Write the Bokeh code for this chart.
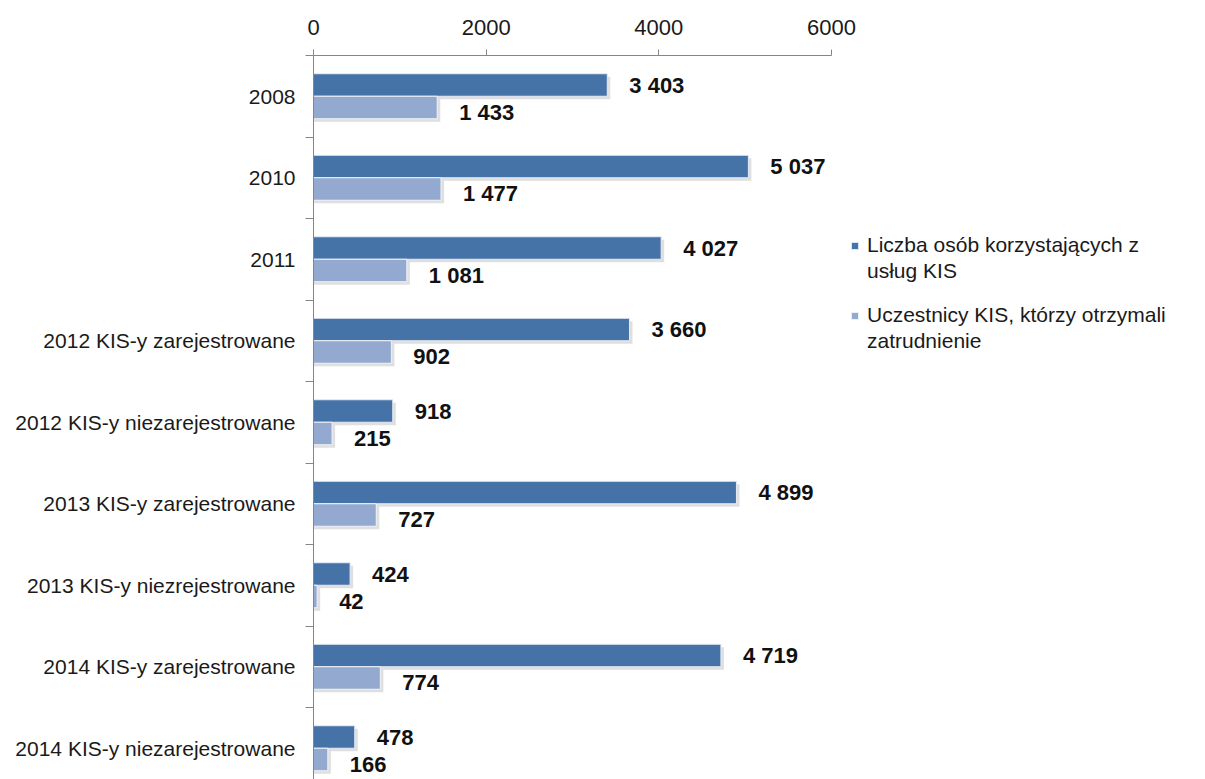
from bokeh.plotting import figure
from bokeh.models import Range1d, FixedTicker, Legend, LegendItem
from bokeh.embed import file_html
from bokeh.resources import INLINE
from bokeh.core.properties import value

# ---- data ----
categories = [
    "2008",
    "2010",
    "2011",
    "2012 KIS-y zarejestrowane",
    "2012 KIS-y niezarejestrowane",
    "2013 KIS-y zarejestrowane",
    "2013 KIS-y niezrejestrowane",
    "2014 KIS-y zarejestrowane",
    "2014 KIS-y niezarejestrowane",
]
users = [3403, 5037, 4027, 3660, 918, 4899, 424, 4719, 478]
employed = [1433, 1477, 1081, 902, 215, 727, 42, 774, 166]
series_names = [
    ["Liczba osób korzystających z", "usług KIS"],
    ["Uczestnicy KIS, którzy otrzymali", "zatrudnienie"],
]
x_ticks = [0, 2000, 4000, 6000]

# ---- styling ----
DARK = "#4572A7"
LIGHT = "#93A9CF"
FONT = "Liberation Sans"
TXT = "#1a1a1a"
AX = "#868686"

n = len(categories)
centers = [n - i - 0.5 for i in range(n)]
bar_h = 0.276
dark_y = [c + bar_h / 2 for c in centers]
light_y = [c - bar_h / 2 for c in centers]

def fmt(v):
    return f"{v:,}".replace(",", " ")

W, H = 1189, 779
LEFT, TOP = 313, 55
AXIS_PX = 518          # pixel length of 0..6000
x_end = 6000 * (W - LEFT) / AXIS_PX
y_start = n - (H - TOP) / 81.5

p = figure(
    width=W, height=H,
    x_range=Range1d(0, x_end), y_range=Range1d(y_start, n),
    x_axis_location="above",
    toolbar_location=None, output_backend="svg",
    min_border_left=LEFT, min_border_top=TOP, min_border_right=0, min_border_bottom=0,
)
p.grid.visible = False
p.outline_line_color = None

# shadows
sx = 35
sy = 0.037
p.hbar(y=[y - sy for y in dark_y], left=0, right=[u + sx for u in users], height=bar_h,
       fill_color="#9a9a9a", fill_alpha=0.32, line_color=None)
p.hbar(y=[y - sy for y in light_y], left=0, right=[u + sx for u in employed], height=bar_h,
       fill_color="#9a9a9a", fill_alpha=0.32, line_color=None)

r_dark = p.hbar(y=dark_y, left=0, right=users, height=bar_h,
                fill_color=DARK, line_color="#e6ecf5", line_width=1)
r_light = p.hbar(y=light_y, left=0, right=employed, height=bar_h,
                 fill_color=LIGHT, line_color="#f0f3f8", line_width=1)
r_blank = p.scatter(x=[], y=[], size=1, alpha=0)

p.text(x=users, y=dark_y, text=[fmt(v) for v in users], x_offset=22,
       text_baseline="middle", text_align="left", text_font=value(FONT),
       text_font_style="bold", text_font_size="22px", text_color="#111111")
p.text(x=employed, y=light_y, text=[fmt(v) for v in employed], x_offset=22, y_offset=5,
       text_baseline="middle", text_align="left", text_font=value(FONT),
       text_font_style="bold", text_font_size="22px", text_color="#111111")

# x axis (top)
xa = p.xaxis[0]
xa.ticker = FixedTicker(ticks=x_ticks)
xa.bounds = (0, 6000)
xa.axis_line_color = AX
xa.major_tick_line_color = AX
xa.major_tick_out = 6
xa.major_tick_in = 0
xa.minor_tick_out = 0
xa.minor_tick_in = 0
xa.major_label_text_font = FONT
xa.major_label_text_font_size = "22px"
xa.major_label_text_color = TXT
xa.major_label_standoff = 15

# y axis (left)
ya = p.yaxis[0]
ya.ticker = FixedTicker(ticks=centers, minor_ticks=list(range(1, n + 1)))
ya.major_label_overrides = {c: cat for c, cat in zip(centers, categories)}
ya.axis_line_color = AX
ya.major_tick_out = 0
ya.major_tick_in = 0
ya.minor_tick_line_color = AX
ya.minor_tick_out = 8
ya.minor_tick_in = 0
ya.major_label_text_font = FONT
ya.major_label_text_font_size = "21px"
ya.major_label_text_color = TXT
ya.major_label_standoff = 10

def make_legend(lines, rend, loc):
    lg = Legend(
        items=[LegendItem(label=lines[0], renderers=[rend]),
               LegendItem(label=lines[1], renderers=[r_blank])],
        location=loc,
    )
    lg.glyph_width = 9
    lg.glyph_height = 9
    lg.label_standoff = 8
    lg.label_height = 26
    lg.spacing = 0
    lg.padding = 0
    lg.margin = 0
    lg.border_line_color = None
    lg.background_fill_alpha = 0
    lg.label_text_font = FONT
    lg.label_text_font_size = "21px"
    lg.label_text_color = TXT
    return lg

# legend positions: offsets from frame left / frame bottom, in screen pixels
frame_h = H - TOP
p.add_layout(make_legend(series_names[0], r_dark, (537, frame_h - 232 + TOP - 52)))
p.add_layout(make_legend(series_names[1], r_light, (537, frame_h - 302 + TOP - 52)))

open("out.html", "w").write(file_html(p, INLINE))
